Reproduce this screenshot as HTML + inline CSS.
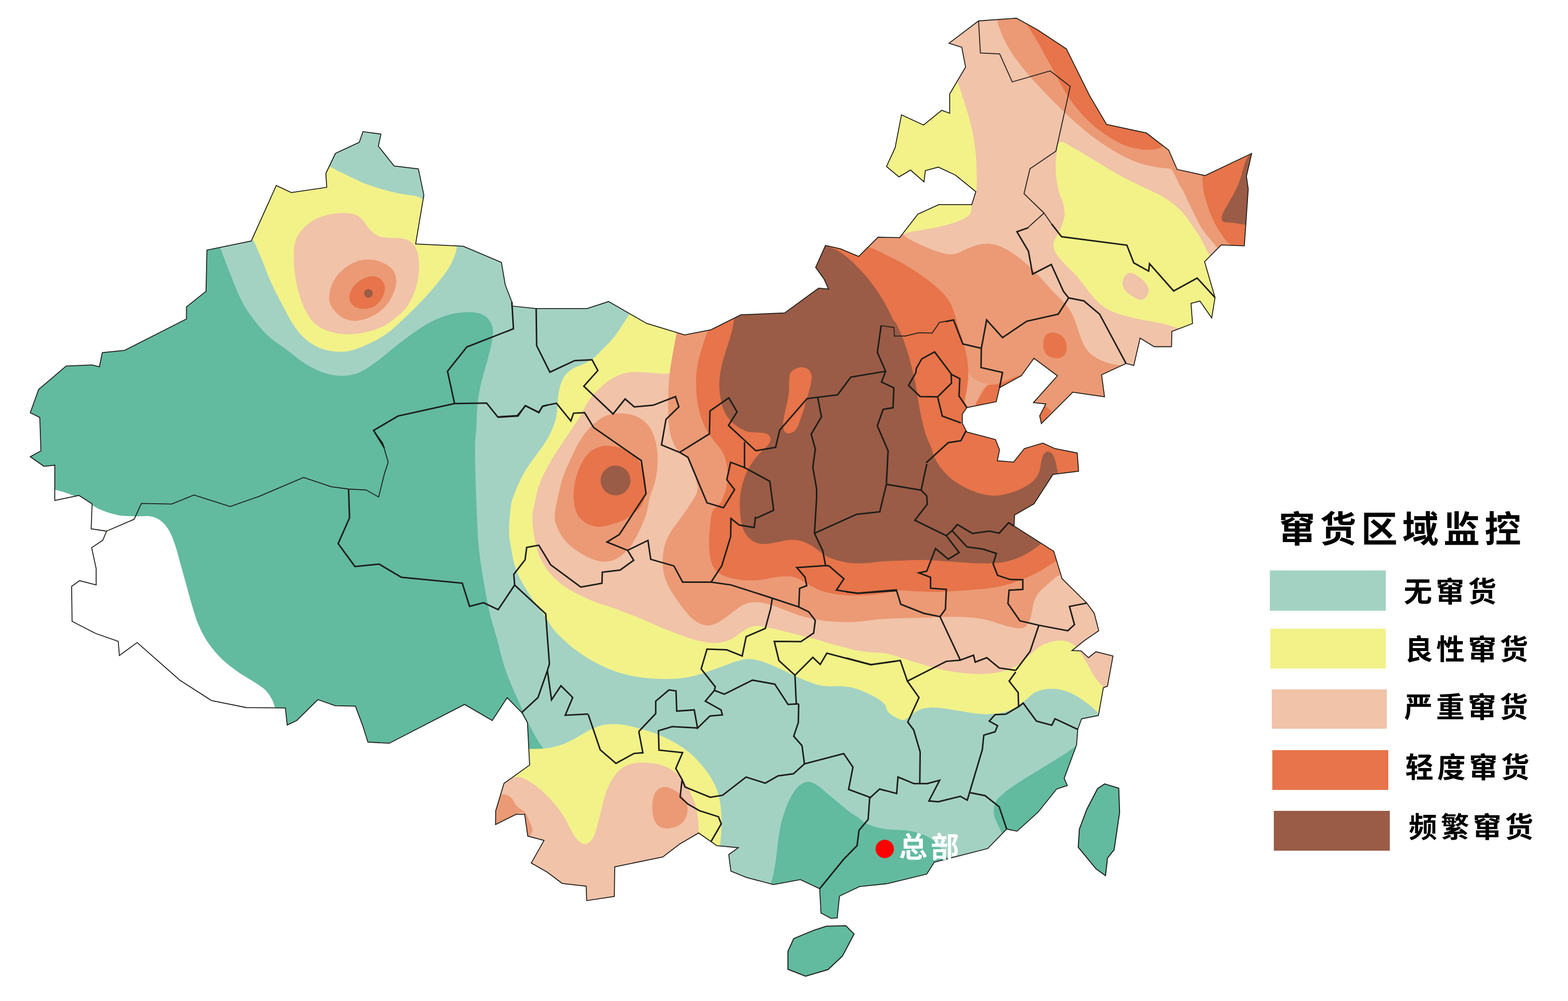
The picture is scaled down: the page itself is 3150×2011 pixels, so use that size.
<!DOCTYPE html>
<html><head><meta charset="utf-8"><title>map</title>
<style>html,body{margin:0;padding:0;background:#fff;font-family:"Liberation Sans",sans-serif}svg{display:block}</style></head>
<body>
<svg width="3150" height="2011" viewBox="0 0 3150 2011">
<defs><clipPath id="cn"><path d="M79.9,838.6 L60.8,829.0 L77.7,782.4 L132.9,735.4 L185.0,733.1 L199.6,736.8 L205.6,708.4 L250.3,703.9 L374.6,640.8 L374.6,616.6 L413.9,585.1 L415.7,502.4 L504.8,484.1 L555.0,372.7 L585.2,386.8 L656.4,376.3 L654.6,348.5 L673.8,308.3 L721.8,285.9 L729.1,264.4 L765.2,269.4 L760.1,293.6 L791.7,333.4 L840.5,339.3 L851.5,391.9 L835.0,490.1 L930.5,494.6 L1007.3,527.1 L1015.0,572.3 L1028.3,606.6 L1028.3,614.8 L1077.1,619.8 L1179.4,619.8 L1222.6,605.8 L1299.0,649.7 L1375.4,672.9 L1428.6,662.3 L1488.4,632.4 L1576.4,628.7 L1644.5,578.9 L1664.5,580.6 L1655.3,560.4 L1638.6,537.1 L1658.3,493.1 L1688.4,499.9 L1725.0,515.2 L1764.0,476.5 L1807.4,477.4 L1843.9,430.3 L1885.9,411.1 L1952.2,411.1 L1960.4,385.1 L1919.3,351.7 L1885.0,335.8 L1859.0,342.6 L1856.2,365.4 L1829.3,341.7 L1806.0,355.4 L1780.9,334.4 L1798.2,296.9 L1811.0,230.7 L1855.3,251.2 L1891.9,221.6 L1907.8,227.5 L1907.8,188.7 L1939.8,134.8 L1932.1,95.0 L1906.5,86.8 L1965.9,42.0 L2041.7,36.5 L2083.7,59.4 L2142.2,98.2 L2188.8,191.9 L2223.0,249.9 L2303.0,267.2 L2347.8,301.5 L2364.7,340.3 L2420.8,352.7 L2514.5,308.3 L2504.0,354.0 L2507.6,380.1 L2499.7,493.9 L2453.2,492.2 L2419.9,525.7 L2440.9,597.8 L2434.2,638.7 L2410.6,604.8 L2392.7,609.5 L2395.7,650.0 L2354.2,665.9 L2353.5,696.5 L2318.6,696.5 L2290.4,679.2 L2277.7,734.1 L2262.1,730.1 L2213.0,753.0 L2218.9,797.2 L2155.1,787.9 L2092.0,851.0 L2088.7,835.4 L2101.0,811.5 L2076.1,808.8 L2124.3,755.0 L2077.1,719.8 L2051.8,754.7 L2008.0,778.9 L2001.3,807.1 L1942.5,818.8 L1933.2,832.1 L1933.2,850.3 L1942.2,867.9 L1999.7,882.9 L2008.0,903.5 L2003.7,925.7 L2036.2,928.4 L2057.8,901.2 L2095.0,890.2 L2119.3,901.2 L2164.1,910.1 L2166.8,946.7 L2115.3,953.2 L2077.1,1012.3 L2038.2,1034.6 L2037.2,1056.8 L2116.9,1107.6 L2133.6,1162.5 L2183.4,1211.6 L2198.3,1232.2 L2207.3,1267.1 L2178.4,1287.0 L2153.5,1307.0 L2171.8,1307.6 L2186.7,1321.3 L2201.7,1309.3 L2235.9,1317.9 L2224.9,1378.4 L2216.6,1381.7 L2206.6,1437.4 L2172.8,1444.0 L2165.1,1465.3 L2162.8,1496.2 L2137.9,1563.6 L2144.2,1578.2 L2122.6,1585.2 L2085.4,1631.7 L2043.2,1669.9 L2022.3,1665.6 L1984.1,1704.8 L1877.1,1732.1 L1861.8,1756.0 L1783.1,1775.2 L1726.6,1781.2 L1686.5,1800.3 L1681.9,1844.2 L1669.3,1844.9 L1649.3,1834.2 L1646.7,1785.4 L1607.8,1767.1 L1554.0,1777.1 L1499.8,1762.8 L1468.3,1750.2 L1464.0,1716.9 L1483.2,1703.0 L1440.0,1699.0 L1428.4,1690.7 L1403.5,1673.4 L1365.3,1695.7 L1331.4,1721.6 L1235.0,1741.5 L1234.1,1801.0 L1178.6,1809.3 L1177.6,1780.4 L1129.4,1774.8 L1099.5,1752.2 L1067.3,1733.9 L1092.9,1688.4 L1060.3,1679.7 L1054.0,1635.9 L1037.0,1635.9 L995.5,1656.5 L995.8,1629.2 L1012.5,1573.8 L1064.0,1536.9 L1059.6,1451.5 L1048.7,1432.2 L1018.8,1401.7 L988.9,1447.5 L933.3,1415.1 L782.1,1493.2 L739.1,1490.9 L728.6,1457.6 L714.0,1418.7 L673.8,1417.8 L638.6,1405.5 L596.1,1447.5 L577.0,1456.6 L573.3,1422.4 L494.7,1421.5 L424.8,1407.3 L360.9,1366.2 L275.5,1290.8 L239.8,1316.9 L237.5,1288.5 L191.9,1272.5 L144.8,1248.3 L143.9,1178.0 L159.9,1166.6 L193.2,1175.2 L193.2,1142.4 L184.1,1100.3 L206.5,1085.3 L214.2,1067.0 L183.2,1062.4 L185.0,1012.2 L158.5,995.3 L110.1,1005.3 L110.1,934.5 L88.2,936.8 L60.8,917.6 L82.2,905.7Z"/></clipPath></defs>
<rect width="3150" height="2011" fill="#fff"/>
<g clip-path="url(#cn)">
<rect width="3150" height="2011" fill="#62BA9F"/>
<path d="M110.1,983.8 C114.6,985.1 127.2,988.0 137.0,991.6 C146.8,995.2 158.3,1000.0 169.0,1005.3 C179.7,1010.6 189.6,1018.6 201.0,1023.6 C212.4,1028.5 225.3,1032.7 237.5,1035.0 C249.7,1037.3 263.4,1036.9 274.1,1037.3 C284.8,1037.7 293.5,1035.9 301.5,1037.3 C309.5,1038.7 315.9,1040.9 322.1,1045.5 C328.4,1050.1 334.1,1056.5 339.0,1064.7 C343.9,1072.9 347.8,1083.0 351.7,1094.4 C355.6,1105.8 359.0,1119.9 362.7,1133.2 C366.4,1146.5 370.3,1160.6 374.1,1174.3 C377.9,1188.0 381.3,1201.7 385.5,1215.4 C389.7,1229.1 393.7,1243.6 399.3,1256.6 C404.9,1269.5 411.5,1281.7 419.4,1293.1 C427.3,1304.5 436.9,1315.6 446.8,1325.1 C456.7,1334.6 467.9,1342.6 478.7,1350.2 C489.5,1357.8 502.5,1364.7 511.6,1370.8 C520.8,1376.9 527.8,1381.1 533.6,1386.8 C539.4,1392.5 543.1,1399.1 546.3,1405.0 C549.5,1410.9 551.6,1419.5 552.7,1422.4 L553.7,1535.2 L0.0,1535.2 L0.0,983.8Z" fill="#fff"/>
<path d="M442.2,496.9 C445.4,505.3 454.4,529.7 461.4,547.2 C468.4,564.7 476.6,586.8 484.2,602.0 C491.8,617.2 498.0,626.3 507.1,638.5 C516.2,650.7 527.6,664.4 539.0,675.1 C550.4,685.8 563.4,693.4 575.6,702.5 C587.8,711.6 599.9,722.3 612.1,729.9 C624.3,737.5 636.5,744.0 648.7,748.2 C660.9,752.4 673.0,755.0 685.2,755.0 C697.4,755.0 709.6,753.2 721.8,748.2 C734.0,743.2 746.1,734.1 758.3,725.3 C770.5,716.5 782.7,705.1 794.9,695.6 C807.1,686.1 819.2,676.6 831.4,668.2 C843.6,659.8 855.7,651.5 867.9,645.4 C880.1,639.3 892.3,634.8 904.5,631.7 C916.7,628.7 930.4,627.1 941.0,627.1 C951.6,627.1 961.2,628.7 968.4,631.7 C975.6,634.8 980.7,639.7 984.4,645.4 C988.1,651.1 990.0,657.9 990.4,665.9 C990.8,673.9 988.8,682.7 986.7,693.4 C984.6,704.1 981.0,717.0 977.6,729.9 C974.2,742.8 969.2,757.3 966.2,771.0 C963.2,784.7 960.8,797.6 959.3,812.1 C957.8,826.6 957.8,844.0 957.0,857.8 C956.2,871.6 954.8,877.1 954.5,895 C954.2,912.9 954.9,942.0 955.5,965 C956.1,988.0 956.9,1010.3 958,1033 C959.1,1055.7 959.7,1078.2 962,1101 C964.3,1123.8 968.3,1148.2 972,1170 C975.7,1191.8 979.3,1212.2 984,1232 C988.7,1251.8 996.2,1275.1 1000.0,1289.0 C1003.8,1302.9 1003.8,1305.6 1006.6,1315.6 C1009.4,1325.6 1012.7,1337.7 1016.6,1348.8 C1020.5,1359.9 1025.5,1371.6 1029.9,1382.1 C1034.3,1392.6 1038.8,1402.0 1043.2,1412.0 C1047.6,1422.0 1052.1,1432.5 1056.5,1441.9 C1060.9,1451.3 1065.4,1460.1 1069.8,1468.4 C1074.2,1476.7 1079.2,1485.6 1083.1,1491.7 C1087.0,1497.8 1091.3,1503.0 1093.0,1505.0 C1094.7,1507.0 1093.4,1503.9 1093.5,1503.7 L1063.0,1509.6 L1000,2011 L3150,2011 L3150,0 L442,0Z" fill="#A3D2C3"/>
<path d="M1548.0,1777.1 C1548.8,1774.0 1551.3,1766.3 1553.0,1758.8 C1554.7,1751.3 1556.6,1741.1 1558.0,1732.2 C1559.4,1723.3 1560.2,1714.4 1561.3,1705.6 C1562.4,1696.8 1563.2,1687.9 1564.6,1679.1 C1566.0,1670.2 1567.4,1661.4 1569.6,1652.5 C1571.8,1643.6 1574.9,1634.2 1577.9,1625.9 C1581.0,1617.6 1584.0,1609.9 1587.9,1602.7 C1591.8,1595.5 1596.8,1587.7 1601.2,1582.7 C1605.6,1577.7 1610.1,1574.7 1614.5,1572.8 C1618.9,1570.9 1622.7,1570.0 1627.7,1571.1 C1632.7,1572.2 1638.3,1575.2 1644.4,1579.4 C1650.5,1583.6 1657.7,1590.5 1664.3,1596.0 C1670.9,1601.5 1677.5,1607.1 1684.2,1612.6 C1690.9,1618.1 1697.6,1624.2 1704.2,1629.2 C1710.8,1634.2 1718.7,1638.7 1724.1,1642.5 C1729.5,1646.3 1731.1,1649.3 1736.5,1652.3 C1741.9,1655.3 1749.3,1658.4 1756.5,1660.6 C1763.7,1662.8 1772.0,1664.5 1779.7,1665.6 C1787.5,1666.7 1795.2,1666.8 1803.0,1667.3 C1810.8,1667.8 1819.0,1667.8 1826.2,1668.9 C1833.4,1670.0 1839.6,1671.7 1846.2,1673.9 C1852.8,1676.1 1860.0,1678.6 1866.1,1682.2 C1872.2,1685.8 1877.7,1690.5 1882.7,1695.5 C1887.7,1700.5 1892.1,1706.8 1896.0,1712.1 C1899.9,1717.4 1904.3,1724.6 1906.0,1727.1 L1932,1900 L1500,1900Z" fill="#62BA9F"/>
<path d="M2162.8,1497.8 C2159.3,1500.3 2149.8,1507.5 2141.9,1512.8 C2134.0,1518.1 2124.7,1523.6 2115.3,1529.4 C2105.9,1535.2 2094.8,1541.9 2085.4,1547.7 C2076.0,1553.5 2067.1,1559.0 2058.8,1564.3 C2050.5,1569.5 2042.7,1574.2 2035.5,1579.2 C2028.3,1584.2 2021.1,1589.5 2015.6,1594.2 C2010.1,1598.9 2005.4,1602.8 2002.3,1607.5 C1999.2,1612.2 1997.5,1617.2 1996.7,1622.4 C1995.9,1627.7 1996.1,1633.5 1997.3,1639.0 C1998.5,1644.5 2001.5,1650.0 2004.0,1655.6 C2006.5,1661.1 2010.9,1669.5 2012.3,1672.3 L2065.4,1715.4 L2198.3,1582.6Z" fill="#62BA9F"/>
<path d="M509.3,483.2 C512.0,489.3 519.6,506.1 525.3,519.8 C531.0,533.5 536.8,550.2 543.6,565.4 C550.5,580.6 558.8,596.6 566.4,611.1 C574.0,625.6 581.7,640.8 589.3,652.2 C596.9,663.6 603.7,672.1 612.1,679.7 C620.5,687.3 629.6,693.5 639.5,697.9 C649.4,702.3 660.8,705.0 671.5,706.1 C682.2,707.2 692.1,707.3 703.5,704.8 C714.9,702.3 727.8,696.8 740.0,691.1 C752.2,685.4 764.4,679.3 776.6,670.5 C788.8,661.7 800.9,649.9 813.1,638.5 C825.3,627.1 838.3,614.2 849.7,602.0 C861.1,589.8 872.5,576.8 881.6,565.4 C890.7,554.0 898.8,543.4 904.5,533.5 C910.2,523.6 913.8,512.6 915.9,506.1 C918.0,499.6 917.1,496.5 917.3,494.6 L850.6,401.0 C848.2,399.9 845.3,396.4 836.0,394.1 C826.7,391.8 810.9,391.1 794.9,387.3 C778.9,383.5 756.8,377.4 740.0,371.3 C723.2,365.2 707.3,356.8 694.4,350.7 C681.5,344.6 667.7,337.4 662.4,334.8 L630.4,337.0 L525.3,337.0 L479.7,474.1Z" fill="#F2F289"/>
<path d="M1264.1,631.4 C1262.2,634.5 1256.7,643.3 1252.5,649.7 C1248.3,656.1 1243.6,663.5 1239.2,669.6 C1234.8,675.7 1230.9,680.7 1225.9,686.2 C1220.9,691.7 1214.8,697.3 1209.3,702.8 C1203.8,708.3 1198.8,714.7 1192.7,719.4 C1186.6,724.1 1179.5,727.8 1172.8,731.1 C1166.1,734.4 1158.9,735.8 1152.8,739.4 C1146.7,743.0 1140.6,747.2 1136.2,752.7 C1131.8,758.2 1128.7,765.4 1126.2,772.6 C1123.7,779.8 1122.4,788.0 1121.3,795.8 C1120.2,803.5 1120.4,811.3 1119.6,819.1 C1118.8,826.9 1118.5,834.1 1116.3,842.4 C1114.1,850.7 1110.2,860.6 1106.3,868.9 C1102.4,877.2 1098.0,884.5 1093.0,892.2 C1088.0,900.0 1081.9,907.6 1076.4,915.4 C1070.9,923.1 1064.8,930.9 1059.8,938.7 C1054.8,946.5 1050.7,953.7 1046.5,962.0 C1042.3,970.3 1038.2,979.6 1034.9,988.5 C1031.6,997.4 1028.6,1002.1 1026.6,1015.1 C1024.5,1028.1 1022.6,1052.3 1022.6,1066.4 C1022.6,1080.5 1024.8,1088.6 1026.6,1099.7 C1028.4,1110.8 1030.4,1122.9 1033.2,1132.9 C1036.0,1142.9 1039.3,1151.2 1043.2,1159.5 C1047.1,1167.8 1051.8,1175.0 1056.5,1182.7 C1061.2,1190.5 1066.4,1198.8 1071.4,1206.0 C1076.4,1213.2 1081.7,1219.3 1086.4,1225.9 C1091.1,1232.5 1095.3,1239.2 1099.7,1245.8 C1104.1,1252.4 1107.5,1259.1 1113.0,1265.8 C1118.5,1272.5 1125.7,1279.1 1132.9,1285.7 C1140.1,1292.3 1147.2,1298.9 1156.1,1305.6 C1164.9,1312.2 1175.5,1319.5 1186.0,1325.6 C1196.5,1331.7 1208.2,1337.5 1219.3,1342.2 C1230.4,1346.9 1241.4,1350.8 1252.5,1353.8 C1263.6,1356.8 1274.6,1358.8 1285.7,1360.5 C1296.8,1362.2 1307.8,1363.2 1318.9,1363.8 C1330.0,1364.3 1341.7,1364.3 1352.2,1363.8 C1362.7,1363.2 1372.7,1362.2 1382.1,1360.5 C1391.5,1358.8 1400.3,1356.3 1408.6,1353.8 C1416.9,1351.3 1424.2,1348.3 1431.9,1345.5 C1439.7,1342.7 1447.3,1340.0 1455.1,1337.2 C1462.8,1334.4 1470.6,1331.1 1478.4,1328.9 C1486.2,1326.7 1494.0,1324.2 1501.7,1323.9 C1509.5,1323.6 1517.2,1325.3 1524.9,1327.2 C1532.7,1329.1 1540.5,1332.5 1548.2,1335.5 C1556.0,1338.5 1563.7,1341.9 1571.4,1345.5 C1579.2,1349.1 1587.0,1353.5 1594.7,1357.1 C1602.5,1360.7 1610.2,1364.0 1617.9,1367.1 C1625.7,1370.1 1633.4,1373.5 1641.2,1375.4 C1649.0,1377.3 1656.2,1378.2 1664.5,1378.7 C1672.8,1379.2 1682.7,1378.1 1691.0,1378.7 C1699.3,1379.3 1706.5,1380.1 1714.3,1382.1 C1722.0,1384.0 1729.8,1387.1 1737.5,1390.4 C1745.2,1393.7 1754.1,1397.8 1760.8,1402.0 C1767.5,1406.2 1773.2,1410.3 1777.4,1415.3 C1781.6,1420.3 1780.1,1426.7 1785.7,1431.9 C1791.3,1437.1 1804.8,1444.7 1811.3,1446.3 C1817.8,1447.9 1819.9,1444.2 1824.6,1441.4 C1829.3,1438.6 1834.2,1432.8 1839.5,1429.7 C1844.8,1426.7 1850.0,1424.5 1856.1,1423.1 C1862.2,1421.7 1868.9,1421.3 1876.1,1421.4 C1883.3,1421.5 1891.0,1422.7 1899.3,1423.8 C1907.6,1424.9 1917.0,1426.7 1925.9,1428.1 C1934.8,1429.5 1943.6,1431.3 1952.5,1432.4 C1961.4,1433.5 1970.2,1434.6 1979.1,1434.7 C1987.9,1434.8 1997.8,1434.2 2005.6,1433.1 C2013.3,1432.0 2018.9,1430.6 2025.6,1428.1 C2032.2,1425.6 2039.4,1422.0 2045.5,1418.1 C2051.6,1414.2 2056.6,1409.2 2062.1,1404.8 C2067.6,1400.4 2072.6,1394.8 2078.7,1391.5 C2084.8,1388.2 2091.5,1386.1 2098.7,1384.9 C2105.9,1383.7 2114.2,1383.4 2121.9,1384.2 C2129.7,1385.0 2138.0,1387.3 2145.2,1389.9 C2152.4,1392.5 2159.0,1396.2 2165.1,1399.8 C2171.2,1403.4 2176.7,1407.9 2181.7,1411.5 C2186.7,1415.1 2190.8,1417.8 2195.0,1421.4 C2199.2,1425.0 2204.7,1431.1 2206.6,1433.1 L2300,1433 L2300,1200 L1500,1100 L1375,800 L1375,600Z" fill="#F2F289"/>
<path d="M1063.0,1504.7 C1068.1,1504.5 1084.7,1504.5 1093.5,1503.7 C1102.3,1502.9 1109.0,1501.5 1116.1,1499.7 C1123.2,1497.9 1129.3,1495.8 1136.0,1493.0 C1142.7,1490.2 1149.3,1486.7 1156.0,1483.1 C1162.7,1479.5 1169.3,1475.0 1175.9,1471.4 C1182.5,1467.8 1189.2,1464.1 1195.8,1461.5 C1202.4,1458.9 1208.6,1456.9 1215.8,1455.8 C1223.0,1454.7 1231.2,1454.4 1239.0,1454.8 C1246.8,1455.2 1254.0,1456.4 1262.3,1458.1 C1270.6,1459.8 1280.1,1462.3 1288.9,1464.8 C1297.8,1467.3 1306.6,1469.8 1315.4,1473.1 C1324.2,1476.4 1333.1,1480.3 1342.0,1484.7 C1350.9,1489.1 1360.3,1494.2 1368.6,1499.7 C1376.9,1505.2 1384.7,1511.3 1391.9,1517.9 C1399.1,1524.5 1405.7,1532.0 1411.8,1539.5 C1417.9,1547.0 1423.7,1555.0 1428.4,1562.8 C1433.1,1570.5 1437.0,1577.7 1440.0,1586.0 C1443.0,1594.3 1445.2,1603.7 1446.7,1612.6 C1448.2,1621.5 1448.9,1630.3 1449.3,1639.2 C1449.7,1648.1 1449.7,1655.8 1449.3,1665.8 C1448.9,1675.8 1447.1,1693.5 1446.7,1699.0 L1446.7,1765.4 L983.2,1765.4 L983.2,1504.7Z" fill="#F2F289"/>
<path d="M593.9,483.2 C597.5,472.5 604.5,463.4 612.1,455.8 C619.7,448.2 628.8,442.1 639.5,437.5 C650.2,432.9 664.7,429.7 676.1,428.4 C687.5,427.1 699.7,427.9 708.1,429.8 C716.5,431.7 720.6,434.7 726.3,439.8 C732.0,444.9 737.0,454.8 742.3,460.4 C747.6,466.0 752.6,470.3 758.3,473.2 C764.0,476.1 769.0,476.8 776.6,477.7 C784.2,478.6 795.6,477.2 804.0,478.7 C812.4,480.2 820.9,481.6 826.8,486.9 C832.7,492.2 837.2,500.6 839.6,510.6 C842.0,520.7 842.4,535.0 841.4,547.2 C840.4,559.4 837.7,572.3 833.7,583.7 C829.8,595.1 824.2,606.6 817.7,615.7 C811.2,624.8 803.3,631.6 794.9,638.5 C786.5,645.4 778.1,651.8 767.4,656.8 C756.7,661.8 743.1,665.8 730.9,668.2 C718.7,670.6 705.8,671.8 694.4,671.4 C683.0,671.0 672.3,669.1 662.4,665.9 C652.5,662.7 642.6,658.3 635.0,652.2 C627.4,646.1 622.0,638.5 616.7,629.4 C611.4,620.3 606.8,608.8 603.0,597.4 C599.2,586.0 596.0,573.8 593.9,560.9 C591.8,548.0 590.2,532.8 590.2,519.8 C590.2,506.8 590.2,493.9 593.9,483.2Z" fill="#F1C3A9"/>
<path d="M1358.8,671.3 C1358.2,674.9 1356.6,685.4 1355.5,692.9 C1354.4,700.4 1353.3,708.9 1352.2,716.1 C1351.1,723.3 1349.9,730.5 1348.8,736.0 C1347.7,741.5 1348.3,746.8 1345.5,749.3 C1342.7,751.8 1337.7,751.0 1332.2,751.0 C1326.7,751.0 1319.5,749.8 1312.3,749.3 C1305.1,748.8 1296.8,748.0 1289.0,747.7 C1281.2,747.4 1273.0,746.9 1265.8,747.7 C1258.6,748.5 1252.4,750.2 1245.8,752.7 C1239.2,755.2 1232.5,758.2 1225.9,762.6 C1219.3,767.0 1212.1,773.7 1206.0,779.2 C1199.9,784.7 1194.4,789.7 1189.4,795.8 C1184.4,801.9 1180.0,809.1 1176.1,815.8 C1172.2,822.4 1170.0,829.1 1166.1,835.7 C1162.2,842.3 1157.2,849.0 1152.8,855.6 C1148.4,862.2 1143.9,869.0 1139.5,875.6 C1135.1,882.2 1130.6,888.9 1126.2,895.5 C1121.8,902.1 1117.4,908.2 1113.0,915.4 C1108.6,922.6 1103.9,930.9 1099.7,938.7 C1095.5,946.5 1091.3,954.2 1088.0,962.0 C1084.7,969.8 1081.9,977.5 1079.7,985.2 C1077.5,993.0 1076.5,1000.5 1074.8,1008.5 C1073.1,1016.5 1070.4,1023.6 1069.8,1033.2 C1069.2,1042.9 1070.0,1055.3 1071.4,1066.4 C1072.8,1077.5 1075.3,1089.7 1078.1,1099.7 C1080.9,1109.7 1083.8,1117.9 1088.0,1126.2 C1092.2,1134.5 1097.2,1142.3 1103.0,1149.5 C1108.8,1156.7 1115.7,1163.3 1122.9,1169.4 C1130.1,1175.5 1137.9,1181.0 1146.2,1186.0 C1154.5,1191.0 1164.0,1195.1 1172.8,1199.3 C1181.6,1203.5 1190.4,1207.7 1199.3,1211.0 C1208.2,1214.3 1217.0,1216.3 1225.9,1219.3 C1234.8,1222.3 1243.6,1225.9 1252.5,1229.2 C1261.4,1232.5 1270.2,1235.6 1279.1,1239.2 C1287.9,1242.8 1296.8,1246.9 1305.6,1250.8 C1314.4,1254.7 1323.3,1258.9 1332.2,1262.5 C1341.1,1266.1 1349.9,1269.1 1358.8,1272.4 C1367.7,1275.7 1376.5,1279.6 1385.4,1282.4 C1394.3,1285.2 1403.7,1287.5 1412.0,1289.0 C1420.3,1290.5 1428.0,1291.7 1435.2,1291.7 C1442.4,1291.7 1449.0,1290.5 1455.1,1289.0 C1461.2,1287.5 1466.2,1285.4 1471.8,1282.4 C1477.3,1279.4 1482.9,1274.4 1488.4,1270.8 C1493.9,1267.2 1499.5,1263.0 1505.0,1260.8 C1510.5,1258.6 1515.5,1257.5 1521.6,1257.5 C1527.7,1257.5 1534.3,1259.4 1541.5,1260.8 C1548.7,1262.2 1556.5,1263.9 1564.8,1265.8 C1573.1,1267.7 1582.6,1270.2 1591.4,1272.4 C1600.2,1274.6 1609.1,1276.9 1617.9,1279.1 C1626.8,1281.3 1635.6,1283.2 1644.5,1285.7 C1653.4,1288.2 1662.2,1291.5 1671.1,1294.0 C1680.0,1296.5 1688.8,1298.5 1697.7,1300.7 C1706.6,1302.9 1715.5,1305.7 1724.3,1307.3 C1733.1,1308.9 1741.9,1309.8 1750.8,1310.6 C1759.7,1311.4 1769.2,1311.1 1777.4,1312.3 C1785.6,1313.5 1790.5,1315.2 1799.7,1317.9 C1809.0,1320.6 1821.8,1325.2 1832.9,1328.6 C1844.0,1332.0 1855.0,1335.5 1866.1,1338.5 C1877.2,1341.5 1888.2,1344.6 1899.3,1346.8 C1910.4,1349.0 1921.5,1350.6 1932.6,1351.8 C1943.7,1353.0 1954.7,1354.2 1965.8,1354.2 C1976.9,1354.2 1989.0,1353.3 1999.0,1351.8 C2009.0,1350.3 2017.8,1348.0 2025.6,1345.2 C2033.3,1342.4 2039.4,1339.1 2045.5,1335.2 C2051.6,1331.3 2056.6,1326.6 2062.1,1321.9 C2067.6,1317.2 2073.2,1311.4 2078.7,1307.0 C2084.2,1302.6 2089.2,1298.3 2095.3,1295.3 C2101.4,1292.2 2108.7,1290.1 2115.3,1288.7 C2122.0,1287.3 2129.1,1286.5 2135.2,1287.0 C2141.3,1287.5 2146.8,1289.2 2151.8,1292.0 C2156.8,1294.8 2161.2,1299.3 2165.1,1303.7 C2169.0,1308.1 2171.8,1313.3 2175.1,1318.6 C2178.4,1323.8 2181.1,1328.5 2185.0,1335.2 C2188.9,1341.9 2193.9,1351.8 2198.3,1358.5 C2202.7,1365.2 2208.0,1370.9 2211.6,1375.1 C2215.2,1379.2 2218.5,1382.0 2219.9,1383.4 L2400,1383 L3000,1000 L3000,0 L1358,0Z" fill="#F1C3A9"/>
<path d="M1029.7,1561.8 C1031.9,1561.7 1038.6,1560.4 1043.0,1561.1 C1047.4,1561.8 1051.3,1563.6 1056.3,1566.1 C1061.3,1568.6 1067.4,1572.2 1072.9,1576.1 C1078.4,1580.0 1084.0,1584.4 1089.5,1589.4 C1095.0,1594.4 1100.5,1599.9 1106.1,1606.0 C1111.6,1612.1 1117.8,1619.3 1122.8,1625.9 C1127.8,1632.5 1132.1,1639.2 1136.0,1645.8 C1139.9,1652.4 1142.7,1659.7 1146.0,1665.8 C1149.3,1671.9 1152.7,1678.0 1156.0,1682.4 C1159.3,1686.8 1162.6,1690.2 1165.9,1692.4 C1169.2,1694.6 1172.6,1696.0 1175.9,1695.7 C1179.2,1695.4 1182.9,1693.8 1185.9,1690.7 C1189.0,1687.7 1191.7,1683.2 1194.2,1677.4 C1196.7,1671.6 1198.6,1663.8 1200.8,1655.8 C1203.0,1647.8 1205.3,1638.0 1207.5,1629.2 C1209.7,1620.4 1211.3,1611.6 1214.1,1602.7 C1216.9,1593.8 1219.9,1584.4 1224.1,1576.1 C1228.2,1567.8 1233.2,1559.2 1239.0,1552.8 C1244.8,1546.4 1251.8,1541.3 1259.0,1537.9 C1266.2,1534.5 1274.5,1533.0 1282.2,1532.2 C1290.0,1531.4 1297.8,1532.1 1305.5,1532.9 C1313.2,1533.7 1321.5,1534.7 1328.7,1536.9 C1335.9,1539.1 1342.6,1542.4 1348.7,1546.2 C1354.8,1550.0 1360.3,1554.5 1365.3,1559.5 C1370.3,1564.5 1374.7,1570.0 1378.6,1576.1 C1382.5,1582.2 1385.5,1589.4 1388.5,1596.0 C1391.5,1602.6 1394.6,1608.7 1396.8,1615.9 C1399.0,1623.1 1400.7,1631.4 1401.8,1639.2 C1402.9,1647.0 1403.2,1656.8 1403.5,1662.5 C1403.8,1668.2 1403.5,1671.6 1403.5,1673.4 L1403.5,1831.9 L983.2,1831.9 L983.2,1561.8Z" fill="#F1C3A9"/>
<path d="M1923.8,164.5 C1925.3,169.1 1929.6,181.2 1933.0,191.9 C1936.4,202.6 1941.0,216.2 1944.4,228.4 C1947.8,240.6 1951.0,252.8 1953.5,265.0 C1956.0,277.2 1958.1,289.3 1959.5,301.5 C1960.9,313.7 1961.5,324.3 1961.8,338.0 C1962.1,351.7 1962.9,371.5 1961.3,383.7 C1959.7,395.9 1954.2,403.5 1952.2,411.1 C1950.2,418.7 1953.0,424.1 1949.0,429.4 C1945.0,434.7 1937.9,438.9 1928.4,443.1 C1918.9,447.3 1904.9,451.3 1891.9,454.5 C1879.0,457.7 1862.7,460.0 1850.7,462.3 C1838.7,464.6 1826.9,465.5 1819.7,468.2 C1812.5,470.9 1809.5,476.6 1807.4,478.3 L1745.7,478.3 L1745.7,137.0Z" fill="#F2F289"/>
<path d="M2129.4,285.5 C2135.1,283.2 2144.6,290.4 2156.8,296.9 C2169.0,303.4 2187.3,315.2 2202.5,324.3 C2217.7,333.4 2233.0,343.3 2248.2,351.7 C2263.4,360.1 2278.7,367.0 2293.9,374.6 C2309.1,382.2 2326.6,389.4 2339.5,397.4 C2352.4,405.4 2362.3,413.4 2371.5,422.5 C2380.7,431.6 2387.6,442.7 2394.4,452.2 C2401.2,461.7 2407.3,470.5 2412.6,479.7 C2417.9,488.9 2422.5,500.2 2426.3,507.1 C2430.1,514.0 2427.1,506.3 2435.5,520.8 C2443.9,535.3 2473.6,570.3 2476.6,593.9 C2479.6,617.5 2470.4,651.4 2453.7,662.4 C2436.9,673.4 2395.1,662.0 2376.1,660.1 C2357.1,658.2 2351.7,653.7 2339.5,651.0 C2327.3,648.3 2315.9,646.8 2303.0,644.1 C2290.1,641.4 2274.8,638.8 2261.9,635.0 C2249.0,631.2 2236.0,627.4 2225.3,621.3 C2214.6,615.2 2205.5,606.0 2197.9,598.4 C2190.3,590.8 2185.8,583.2 2179.7,575.6 C2173.6,568.0 2168.3,560.3 2161.4,552.7 C2154.5,545.1 2145.3,537.5 2138.5,529.9 C2131.7,522.3 2124.0,514.0 2120.3,507.1 C2116.7,500.2 2116.2,494.1 2116.6,488.8 C2117.0,483.5 2120.0,480.4 2122.5,475.1 C2125.0,469.8 2129.0,463.7 2131.7,456.8 C2134.4,449.9 2137.7,441.6 2138.5,434.0 C2139.3,426.4 2138.2,419.5 2136.3,411.1 C2134.4,402.7 2129.6,394.4 2127.1,383.7 C2124.6,373.0 2122.0,359.4 2121.2,347.2 C2120.4,335.0 2121.1,320.9 2122.5,310.6 C2123.9,300.3 2123.7,287.8 2129.4,285.5Z" fill="#F2F289"/>
<path d="M2255.0,566.4 C2255.4,561.5 2258.8,555.7 2261.9,552.7 C2265.0,549.7 2268.7,547.4 2273.3,548.2 C2277.9,549.0 2284.4,553.5 2289.3,557.3 C2294.2,561.1 2299.9,566.4 2303.0,571.0 C2306.1,575.6 2308.0,580.1 2307.6,584.7 C2307.2,589.3 2303.8,595.5 2300.7,598.4 C2297.6,601.3 2293.9,602.9 2289.3,602.1 C2284.7,601.4 2278.2,597.2 2273.3,593.9 C2268.4,590.6 2262.7,587.0 2259.6,582.4 C2256.5,577.8 2254.6,571.3 2255.0,566.4Z" fill="#F1C3A9"/>
<path d="M661.3,598.2 C661.5,591.7 662.7,582.0 665.9,573.9 C669.1,565.8 674.6,556.6 680.7,549.6 C686.8,542.6 694.6,536.6 702.3,532.1 C709.9,527.6 718.5,524.3 726.6,522.6 C734.7,520.9 743.2,521.0 750.9,522.1 C758.5,523.2 766.2,526.2 772.5,529.4 C778.8,532.6 784.9,536.8 788.7,541.5 C792.5,546.2 794.5,551.9 795.5,557.7 C796.5,563.6 796.2,569.9 794.6,576.6 C793.0,583.4 789.7,591.5 786.0,598.2 C782.3,605.0 777.9,611.5 772.5,617.1 C767.1,622.7 760.4,628.0 753.6,632.0 C746.9,636.0 739.2,639.3 732.0,641.4 C724.8,643.5 717.1,644.8 710.4,644.6 C703.6,644.4 697.4,642.9 691.5,640.1 C685.6,637.3 679.8,632.4 675.3,627.9 C670.8,623.4 666.8,618.0 664.5,613.1 C662.2,608.2 661.1,604.7 661.3,598.2Z" fill="#EB9A75"/>
<path d="M1196.0,849.0 C1202.1,844.0 1208.7,838.8 1215.9,835.7 C1223.1,832.7 1230.9,831.2 1239.2,830.7 C1247.5,830.2 1257.5,830.5 1265.8,832.4 C1274.1,834.3 1282.4,838.0 1289.0,842.4 C1295.6,846.8 1301.2,852.4 1305.6,859.0 C1310.0,865.6 1313.1,873.9 1315.6,882.2 C1318.1,890.5 1319.8,899.4 1320.6,908.8 C1321.4,918.2 1321.4,928.7 1320.6,938.7 C1319.8,948.7 1318.1,958.6 1315.6,968.6 C1313.1,978.6 1308.4,988.3 1305.6,998.5 C1302.8,1008.7 1301.8,1020.2 1299.0,1029.9 C1296.2,1039.6 1292.9,1047.6 1289.0,1056.5 C1285.1,1065.4 1280.1,1075.3 1275.7,1083.1 C1271.3,1090.8 1267.5,1097.2 1262.5,1103.0 C1257.5,1108.8 1251.3,1114.0 1245.8,1117.9 C1240.2,1121.8 1235.3,1124.5 1229.2,1126.2 C1223.1,1127.9 1215.9,1128.5 1209.3,1127.9 C1202.7,1127.4 1196.1,1125.4 1189.4,1122.9 C1182.8,1120.4 1176.1,1116.9 1169.4,1113.0 C1162.8,1109.1 1155.6,1104.7 1149.5,1099.7 C1143.4,1094.7 1137.9,1089.8 1132.9,1083.1 C1127.9,1076.4 1122.6,1068.1 1119.6,1059.8 C1116.5,1051.5 1113.5,1047.3 1114.6,1033.2 C1115.7,1019.1 1122.6,989.9 1126.2,975.2 C1129.8,960.6 1132.3,955.3 1136.2,945.3 C1140.1,935.3 1145.1,924.8 1149.5,915.4 C1153.9,906.0 1157.8,897.2 1162.8,888.9 C1167.8,880.6 1173.9,872.2 1179.4,865.6 C1184.9,859.0 1189.9,854.0 1196.0,849.0Z" fill="#EB9A75"/>
<path d="M1358.8,671.3 C1356.6,684.3 1348.3,725.2 1345.5,749.3 C1342.7,773.4 1342.2,796.4 1342.2,815.8 C1342.2,835.2 1343.3,852.3 1345.5,865.6 C1347.7,878.9 1351.6,887.8 1355.5,895.5 C1359.4,903.2 1364.4,907.7 1368.8,912.1 C1373.2,916.5 1378.2,917.1 1382.1,922.1 C1386.0,927.1 1389.2,934.8 1392.0,942.0 C1394.8,949.2 1397.3,957.5 1398.7,965.3 C1400.1,973.0 1403.1,979.4 1400.3,988.5 C1397.5,997.6 1387.9,1010.8 1382.1,1019.9 C1376.3,1029.0 1371.0,1035.5 1365.4,1043.2 C1359.9,1051.0 1353.5,1058.7 1348.8,1066.4 C1344.1,1074.2 1340.0,1081.9 1337.2,1089.7 C1334.4,1097.5 1333.1,1105.2 1332.2,1113.0 C1331.3,1120.8 1331.0,1128.5 1331.6,1136.2 C1332.1,1144.0 1333.2,1151.8 1335.5,1159.5 C1337.8,1167.2 1341.3,1175.0 1345.5,1182.7 C1349.7,1190.5 1355.5,1198.8 1360.5,1206.0 C1365.5,1213.2 1370.4,1219.8 1375.4,1225.9 C1380.4,1232.0 1385.4,1238.1 1390.4,1242.5 C1395.4,1246.9 1400.0,1250.2 1405.3,1252.5 C1410.5,1254.8 1416.4,1256.5 1421.9,1256.5 C1427.4,1256.5 1433.0,1254.8 1438.5,1252.5 C1444.0,1250.2 1450.1,1245.8 1455.1,1242.5 C1460.1,1239.2 1464.0,1235.9 1468.4,1232.6 C1472.8,1229.3 1477.3,1225.6 1481.7,1222.6 C1486.1,1219.5 1490.0,1216.4 1495.0,1214.3 C1500.0,1212.2 1505.5,1210.5 1511.6,1210.0 C1517.7,1209.5 1524.9,1210.0 1531.6,1211.0 C1538.2,1212.0 1543.8,1213.4 1551.5,1215.9 C1559.2,1218.4 1569.2,1222.6 1578.1,1225.9 C1587.0,1229.2 1595.8,1233.1 1604.7,1235.9 C1613.6,1238.7 1622.4,1240.6 1631.2,1242.5 C1640.0,1244.4 1648.9,1246.4 1657.8,1247.5 C1666.7,1248.6 1675.5,1248.8 1684.4,1249.2 C1693.3,1249.6 1702.2,1250.1 1711.0,1249.8 C1719.8,1249.5 1728.7,1248.4 1737.5,1247.5 C1746.3,1246.6 1753.7,1245.1 1764.1,1244.2 C1774.5,1243.3 1788.2,1242.7 1799.7,1242.2 C1811.2,1241.8 1821.8,1241.8 1832.9,1241.5 C1844.0,1241.2 1855.0,1240.8 1866.1,1240.5 C1877.2,1240.2 1888.2,1239.7 1899.3,1239.5 C1910.4,1239.3 1921.5,1239.0 1932.6,1239.5 C1943.7,1240.0 1956.4,1240.9 1965.8,1242.2 C1975.2,1243.5 1981.8,1245.3 1989.0,1247.2 C1996.2,1249.1 2002.3,1251.8 2009.0,1253.8 C2015.7,1255.8 2022.3,1258.1 2028.9,1259.5 C2035.5,1260.9 2043.5,1262.2 2048.8,1262.1 C2054.1,1262.0 2057.2,1261.6 2060.5,1258.8 C2063.8,1256.0 2066.6,1251.0 2068.8,1245.5 C2071.0,1240.0 2072.4,1231.7 2073.8,1225.6 C2075.2,1219.5 2075.2,1214.5 2077.1,1209.0 C2079.0,1203.5 2081.8,1197.4 2085.4,1192.4 C2089.0,1187.4 2094.3,1183.3 2098.7,1179.1 C2103.1,1174.9 2108.1,1170.7 2112.0,1167.4 C2115.9,1164.1 2118.6,1161.3 2121.9,1159.1 C2125.2,1156.9 2130.2,1155.0 2131.9,1154.2 L2300,1154 L2300,760 L2252.2,734.1 C2248.9,733.5 2239.4,732.7 2232.2,730.7 C2225.0,728.8 2216.2,726.0 2209.0,722.4 C2201.8,718.8 2194.6,714.6 2189.0,709.1 C2183.4,703.6 2179.6,697.0 2175.7,689.2 C2171.8,681.5 2168.6,670.4 2165.8,662.6 C2163.0,654.9 2161.9,649.3 2159.1,642.7 C2156.3,636.1 2153.1,628.9 2149.2,622.8 C2145.3,616.7 2140.9,611.6 2135.9,606.1 C2130.9,600.6 2125.4,595.9 2119.3,589.5 C2113.2,583.1 2106.0,575.1 2099.3,567.9 C2092.7,560.7 2086.0,552.9 2079.4,546.3 C2072.8,539.7 2066.7,534.2 2059.5,528.1 C2052.3,522.0 2044.0,515.1 2036.2,509.8 C2028.5,504.5 2020.8,499.8 2013.0,496.5 C2005.2,493.2 1997.5,490.7 1989.7,489.9 C1981.9,489.1 1974.2,489.9 1966.4,491.5 C1958.7,493.1 1951.0,496.8 1943.2,499.8 C1935.5,502.9 1926.8,508.1 1919.9,509.8 C1913.0,511.5 1908.0,510.9 1902.0,510.2 C1896.0,509.5 1889.8,507.5 1883.7,505.6 C1877.6,503.7 1871.5,501.3 1865.4,498.8 C1859.3,496.3 1852.9,493.5 1847.2,490.8 C1841.5,488.1 1835.8,485.3 1831.2,482.8 C1826.6,480.3 1822.7,478.0 1819.8,475.9 C1816.9,473.8 1815.0,471.1 1814.1,470.2 L1700,450 L1400,600Z" fill="#EB9A75"/>
<path d="M2003.0,40.1 C2003.7,42.5 2004.9,48.1 2007.1,54.3 C2009.3,60.5 2012.4,69.1 2016.2,77.1 C2020.0,85.1 2025.0,94.2 2029.9,102.2 C2034.9,110.2 2040.2,117.5 2045.9,125.1 C2051.6,132.7 2058.1,140.7 2064.2,147.9 C2070.3,155.1 2076.4,161.8 2082.5,168.5 C2088.6,175.2 2094.6,181.6 2100.7,187.9 C2106.8,194.2 2112.9,200.1 2119.0,206.2 C2125.1,212.3 2131.2,218.5 2137.3,224.4 C2143.4,230.3 2149.5,236.1 2155.6,241.6 C2161.7,247.1 2167.7,252.4 2173.8,257.5 C2179.9,262.6 2185.6,267.4 2192.1,272.4 C2198.6,277.3 2205.5,282.2 2212.7,287.2 C2219.9,292.1 2227.9,297.5 2235.5,302.1 C2243.1,306.7 2250.7,310.8 2258.3,314.6 C2265.9,318.4 2273.6,322.0 2281.2,324.9 C2288.8,327.8 2296.4,329.9 2304.0,331.8 C2311.6,333.7 2319.3,335.1 2326.9,336.3 C2334.5,337.6 2344.9,338.1 2349.7,339.3 C2354.5,340.5 2353.5,340.7 2355.5,343.4 C2357.5,346.1 2359.7,350.8 2361.9,355.3 C2364.1,359.8 2366.1,365.2 2368.8,370.2 C2371.5,375.1 2374.9,379.1 2377.9,385.0 C2380.9,390.9 2383.6,398.4 2387.0,405.6 C2390.4,412.8 2394.7,420.8 2398.5,428.4 C2402.3,436.0 2406.1,444.5 2409.9,451.2 C2413.7,457.9 2417.5,463.2 2421.3,468.4 C2425.1,473.5 2428.9,477.4 2432.7,482.1 C2436.5,486.9 2442.2,494.4 2444.1,496.9 L2550,520 L2600,200 L2100,0 L2000,30Z" fill="#EB9A75"/>
<path d="M1310.5,1615.9 C1310.9,1609.5 1311.9,1602.7 1313.8,1597.7 C1315.7,1592.7 1318.5,1588.8 1322.1,1586.0 C1325.7,1583.2 1330.4,1581.1 1335.4,1581.1 C1340.4,1581.1 1346.5,1583.2 1352.0,1586.0 C1357.5,1588.8 1364.2,1593.3 1368.6,1597.7 C1373.0,1602.1 1376.5,1607.3 1378.6,1612.6 C1380.7,1617.8 1381.8,1623.4 1381.2,1629.2 C1380.6,1635.0 1378.4,1642.5 1375.2,1647.5 C1372.0,1652.5 1367.0,1656.3 1362.0,1659.1 C1357.0,1661.9 1350.8,1663.5 1345.3,1664.1 C1339.8,1664.7 1333.4,1664.4 1328.7,1662.5 C1324.0,1660.6 1320.0,1656.9 1317.1,1652.5 C1314.2,1648.1 1312.6,1642.0 1311.5,1635.9 C1310.4,1629.8 1310.1,1622.3 1310.5,1615.9Z" fill="#EB9A75"/>
<path d="M993.2,1599.3 C995.7,1588.8 1003.7,1596.3 1008.1,1596.0 C1012.5,1595.7 1016.2,1596.0 1019.8,1597.7 C1023.4,1599.4 1026.9,1602.7 1029.7,1606.0 C1032.5,1609.3 1033.6,1614.3 1036.4,1617.6 C1039.2,1620.9 1043.0,1623.1 1046.3,1625.9 C1049.6,1628.7 1053.2,1629.8 1056.3,1634.2 C1059.3,1638.6 1062.4,1647.2 1064.6,1652.5 C1066.8,1657.8 1069.3,1661.9 1069.6,1665.8 C1069.9,1669.7 1068.0,1673.2 1066.3,1675.7 C1064.6,1678.2 1062.4,1679.9 1059.6,1680.7 C1056.8,1681.5 1051.3,1688.7 1049.7,1680.7 C1048.1,1672.7 1059.1,1636.2 1049.7,1632.6 C1040.3,1629.0 1002.6,1664.6 993.2,1659.1 C983.8,1653.5 990.7,1609.8 993.2,1599.3Z" fill="#EB9A75"/>
<path d="M1945.3,750.9 C1943.3,754.3 1944.7,770.2 1943.4,780.8 C1942.2,791.4 1935.1,809.0 1937.8,814.5 C1940.5,820.0 1954.3,817.8 1959.5,813.9 C1964.7,810.0 1965.9,797.2 1969.2,790.9 C1972.5,784.6 1976.3,779.2 1979.1,776.0 C1981.8,772.8 1987.1,773.1 1985.7,771.7 C1984.3,770.3 1975.5,769.6 1970.5,767.7 C1965.5,765.8 1959.8,763.1 1955.6,760.3 C1951.4,757.5 1947.3,747.5 1945.3,750.9Z" fill="#EEA88A"/>
<path d="M701.8,598.2 C701.8,593.5 703.6,587.2 706.4,582.0 C709.2,576.8 713.8,571.2 718.5,567.2 C723.2,563.2 729.3,559.7 734.7,557.7 C740.1,555.7 746.0,554.5 750.9,555.0 C755.8,555.5 760.8,557.5 764.4,560.4 C768.0,563.3 771.2,568.1 772.5,572.6 C773.8,577.1 773.4,582.2 772.0,587.4 C770.6,592.6 767.9,598.9 764.4,603.6 C760.9,608.3 755.8,613.0 750.9,615.8 C746.0,618.6 740.1,619.8 734.7,620.3 C729.3,620.8 723.2,620.1 718.5,618.5 C713.8,616.9 709.2,613.8 706.4,610.4 C703.6,607.0 701.8,602.9 701.8,598.2Z" fill="#E7744A"/>
<path d="M1206.0,897.2 C1213.5,895.1 1221.5,895.4 1229.2,896.2 C1237.0,897.0 1245.3,899.0 1252.5,902.2 C1259.7,905.4 1266.6,910.4 1272.4,915.4 C1278.2,920.4 1283.5,924.9 1287.4,932.1 C1291.3,939.3 1294.1,949.2 1295.7,958.6 C1297.3,968.0 1298.4,979.1 1297.3,988.5 C1296.2,997.9 1293.2,1007.9 1289.0,1015.1 C1284.8,1022.3 1278.5,1026.7 1272.4,1031.7 C1266.3,1036.7 1259.7,1041.4 1252.5,1045.0 C1245.3,1048.6 1237.0,1051.1 1229.2,1053.3 C1221.5,1055.5 1213.2,1058.0 1206.0,1058.3 C1198.8,1058.6 1192.1,1057.2 1186.0,1055.0 C1179.9,1052.8 1174.1,1049.4 1169.4,1045.0 C1164.7,1040.6 1160.6,1035.1 1157.8,1028.4 C1155.0,1021.8 1153.5,1013.4 1152.8,1005.1 C1152.1,996.8 1152.4,987.5 1153.5,978.6 C1154.6,969.8 1156.8,960.3 1159.5,952.0 C1162.2,943.7 1165.2,935.9 1169.4,928.7 C1173.6,921.5 1178.3,914.0 1184.4,908.8 C1190.5,903.5 1198.5,899.3 1206.0,897.2Z" fill="#E7744A"/>
<path d="M1421.9,664.6 C1420.2,669.3 1415.0,683.2 1412.0,692.9 C1409.0,702.6 1405.9,712.8 1403.7,722.8 C1401.5,732.8 1399.5,742.7 1398.7,752.7 C1397.9,762.7 1398.2,772.6 1398.7,782.6 C1399.2,792.6 1400.3,803.1 1402.0,812.5 C1403.7,821.9 1405.8,830.7 1408.6,839.0 C1411.4,847.3 1414.7,855.1 1418.6,862.3 C1422.5,869.5 1427.5,876.1 1431.9,882.2 C1436.3,888.3 1441.3,893.3 1445.2,898.8 C1449.1,904.3 1452.6,909.3 1455.1,915.4 C1457.6,921.5 1459.0,928.2 1460.1,935.4 C1461.2,942.6 1462.1,950.9 1461.8,958.6 C1461.5,966.4 1460.7,973.6 1458.5,981.9 C1456.3,990.2 1452.9,1001.0 1448.5,1008.5 C1444.1,1016.0 1435.5,1019.1 1431.9,1026.6 C1428.3,1034.0 1428.1,1044.3 1426.9,1053.2 C1425.7,1062.1 1424.9,1070.9 1424.6,1079.7 C1424.3,1088.5 1424.3,1097.4 1425.2,1106.3 C1426.1,1115.2 1427.4,1125.7 1430.2,1132.9 C1433.0,1140.1 1436.6,1145.1 1441.9,1149.5 C1447.2,1153.9 1454.6,1157.0 1461.8,1159.5 C1469.0,1162.0 1477.2,1163.4 1485.0,1164.5 C1492.8,1165.6 1500.5,1166.1 1508.3,1166.1 C1516.1,1166.1 1523.3,1165.6 1531.6,1164.5 C1539.9,1163.4 1549.2,1160.6 1558.1,1159.5 C1566.9,1158.4 1576.9,1157.2 1584.7,1157.8 C1592.5,1158.3 1598.6,1160.3 1604.7,1162.8 C1610.8,1165.3 1614.1,1168.9 1621.3,1172.8 C1628.5,1176.7 1638.9,1182.7 1647.8,1186.0 C1656.7,1189.3 1665.0,1191.0 1674.4,1192.7 C1683.8,1194.4 1693.8,1195.5 1704.3,1196.0 C1714.8,1196.5 1726.4,1196.5 1737.5,1196.0 C1748.6,1195.5 1760.4,1194.3 1770.8,1192.7 C1781.2,1191.1 1789.3,1187.3 1799.7,1186.4 C1810.1,1185.5 1821.8,1187.0 1832.9,1187.4 C1844.0,1187.8 1855.0,1188.8 1866.1,1189.0 C1877.2,1189.2 1888.2,1188.8 1899.3,1188.4 C1910.4,1188.0 1921.5,1187.1 1932.6,1186.4 C1943.7,1185.7 1954.7,1185.1 1965.8,1184.1 C1976.9,1183.0 1989.0,1181.8 1999.0,1180.1 C2009.0,1178.4 2017.3,1176.5 2025.6,1174.1 C2033.9,1171.7 2041.6,1168.6 2048.8,1165.8 C2056.0,1163.0 2062.2,1160.5 2068.8,1157.5 C2075.5,1154.5 2082.6,1150.8 2088.7,1147.5 C2094.8,1144.2 2100.3,1140.5 2105.3,1137.5 C2110.3,1134.5 2115.3,1130.9 2118.6,1129.2 C2121.9,1127.5 2124.1,1127.9 2125.2,1127.6 L2350,1127 L2350,880 L2100,870 L1960,835 L1941.5,818.8 C1941.0,816.6 1938.2,811.0 1938.2,805.5 C1938.2,800.0 1940.4,793.2 1941.5,785.5 C1942.6,777.8 1944.5,768.3 1944.9,759.0 C1945.4,749.7 1945.1,739.0 1944.2,729.9 C1943.3,720.8 1941.4,712.0 1939.7,704.3 C1938.0,696.6 1936.1,690.6 1934.0,683.8 C1931.9,676.9 1929.2,670.1 1927.1,663.2 C1925.0,656.4 1923.3,649.2 1921.4,642.7 C1919.5,636.2 1917.8,630.1 1915.7,624.4 C1913.6,618.7 1911.5,613.3 1908.8,608.4 C1906.1,603.5 1903.5,599.3 1899.7,594.7 C1895.9,590.1 1891.0,585.6 1886.0,581.0 C1881.0,576.4 1875.7,571.9 1870.0,567.3 C1864.3,562.7 1858.2,558.2 1851.7,553.6 C1845.2,549.0 1838.4,544.5 1831.2,539.9 C1824.0,535.3 1815.9,530.4 1808.3,526.2 C1800.7,522.0 1793.1,518.6 1785.5,514.8 C1777.9,511.0 1769.4,506.4 1762.7,503.3 C1756.0,500.2 1748.4,497.6 1745.5,496.5 L1700,450 L1450,600Z" fill="#E7744A"/>
<path d="M2063.1,48.6 C2064.8,51.5 2069.3,59.1 2073.3,65.7 C2077.3,72.4 2082.4,80.5 2087.0,88.5 C2091.6,96.5 2096.1,105.2 2100.7,113.6 C2105.3,122.0 2109.9,130.4 2114.5,138.8 C2119.1,147.2 2123.3,155.2 2128.2,163.9 C2133.1,172.7 2138.4,182.6 2144.1,191.3 C2149.8,200.1 2155.9,208.4 2162.4,216.4 C2168.9,224.4 2175.8,232.1 2183.0,239.3 C2190.2,246.5 2198.2,253.7 2205.8,259.8 C2213.4,265.9 2221.1,271.0 2228.7,275.8 C2236.3,280.6 2243.9,285.0 2251.5,288.4 C2259.1,291.8 2266.7,294.4 2274.3,296.4 C2281.9,298.4 2290.3,299.8 2297.2,300.5 C2304.0,301.2 2310.1,301.0 2315.4,300.5 C2320.7,300.0 2325.4,298.8 2329.2,297.5 C2333.0,296.2 2336.0,294.2 2338.3,292.9 C2340.6,291.6 2342.1,290.1 2342.9,289.5 L2400,250 L2200,0 L2050,20Z" fill="#E7744A"/>
<path d="M2415.6,352.6 C2415.7,355.7 2415.7,365.1 2416.3,371.3 C2416.9,377.5 2417.8,383.9 2419.0,389.6 C2420.2,395.3 2421.7,399.5 2423.6,405.6 C2425.5,411.7 2427.7,419.2 2430.4,426.1 C2433.1,433.0 2436.6,440.6 2439.6,446.7 C2442.6,452.8 2445.7,457.8 2448.7,462.7 C2451.7,467.6 2454.8,472.2 2457.8,476.4 C2460.9,480.6 2464.1,485.0 2467.0,487.8 C2469.9,490.6 2473.7,492.1 2475.0,493.0 L2524.1,493.0 L2524.1,291.4 L2415.6,337.0Z" fill="#E7744A"/>
<path d="M2096.0,689.2 C2096.4,685.1 2097.1,679.3 2099.3,675.9 C2101.5,672.5 2105.4,669.7 2109.3,668.6 C2113.2,667.5 2118.2,667.8 2122.6,669.3 C2127.0,670.8 2132.6,673.7 2135.9,677.6 C2139.2,681.5 2141.7,687.2 2142.5,692.5 C2143.3,697.8 2142.8,704.8 2140.9,709.1 C2139.0,713.4 2135.1,716.7 2130.9,718.4 C2126.7,720.1 2120.6,720.1 2115.9,719.1 C2111.2,718.1 2105.9,715.5 2102.7,712.5 C2099.5,709.5 2097.8,704.7 2096.7,700.8 C2095.6,696.9 2095.6,693.4 2096.0,689.2Z" fill="#E7744A"/>
<path d="M1961.5,815.4 C1956.2,812.6 1968.1,798.6 1971.4,792.2 C1974.7,785.8 1978.6,780.4 1981.4,777.2 C1984.2,774.0 1985.0,773.7 1988.0,772.9 C1991.0,772.1 1994.4,773.5 1999.7,772.3 C2005.0,771.1 2013.0,768.1 2019.6,765.6 C2026.2,763.1 2034.0,759.2 2039.5,757.3 C2045.0,755.4 2057.8,749.9 2052.8,754.0 C2047.8,758.1 2017.9,773.1 2009.6,782.2 C2001.3,791.3 2011.0,803.3 2003.0,808.8 C1995.0,814.3 1966.8,818.2 1961.5,815.4Z" fill="#E7744A"/>
<path d="M2099.3,813.8 L2112.6,827.1 L2092.0,851.0 L2088.7,835.4Z" fill="#E7744A"/>
<path d="M1475.1,639.7 C1474.3,644.1 1472.6,656.3 1470.1,666.3 C1467.6,676.3 1463.4,688.4 1460.1,699.5 C1456.8,710.6 1452.7,721.6 1450.2,732.7 C1447.7,743.8 1445.8,755.4 1445.2,765.9 C1444.6,776.4 1445.4,786.4 1446.8,795.8 C1448.2,805.2 1450.5,814.6 1453.5,822.4 C1456.5,830.2 1460.4,836.6 1465.1,842.4 C1469.8,848.2 1475.6,853.1 1481.7,857.3 C1487.8,861.4 1495.1,865.4 1501.7,867.3 C1508.3,869.2 1515.5,868.3 1521.6,868.9 C1527.7,869.5 1534.0,869.2 1538.2,870.6 C1542.4,872.0 1545.0,874.7 1546.5,877.2 C1548.0,879.7 1548.3,882.5 1547.5,885.5 C1546.7,888.5 1545.3,891.1 1541.5,895.5 C1537.7,899.9 1529.9,906.6 1524.9,912.1 C1519.9,917.6 1515.8,922.6 1511.6,928.7 C1507.4,934.8 1503.3,941.5 1500.0,948.7 C1496.7,955.9 1493.9,963.6 1491.7,971.9 C1489.5,980.2 1487.5,989.4 1486.7,998.5 C1485.9,1007.6 1486.2,1017.5 1486.7,1026.6 C1487.2,1035.7 1488.1,1045.5 1490.0,1053.2 C1491.9,1061.0 1494.7,1067.6 1498.3,1073.1 C1501.9,1078.6 1506.0,1083.1 1511.6,1086.4 C1517.1,1089.7 1523.8,1092.5 1531.6,1093.0 C1539.3,1093.5 1549.2,1091.1 1558.1,1089.7 C1566.9,1088.3 1576.4,1085.2 1584.7,1084.7 C1593.0,1084.2 1600.8,1084.7 1608.0,1086.4 C1615.2,1088.1 1621.8,1091.4 1627.9,1094.7 C1634.0,1098.0 1639.0,1102.4 1644.5,1106.3 C1650.0,1110.2 1654.4,1114.6 1661.1,1117.9 C1667.8,1121.2 1676.1,1124.0 1684.4,1126.2 C1692.7,1128.4 1701.6,1130.4 1711.0,1131.2 C1720.4,1132.0 1730.9,1131.8 1740.9,1131.2 C1750.9,1130.7 1755.5,1128.9 1770.8,1127.9 C1786.1,1126.9 1817.0,1125.7 1832.9,1125.2 C1848.8,1124.8 1855.0,1124.8 1866.1,1125.2 C1877.2,1125.6 1888.2,1126.8 1899.3,1127.6 C1910.4,1128.4 1921.5,1129.2 1932.6,1129.9 C1943.7,1130.6 1955.8,1131.3 1965.8,1131.6 C1975.8,1131.9 1984.1,1132.0 1992.4,1131.6 C2000.7,1131.2 2007.8,1130.6 2015.6,1129.2 C2023.3,1127.8 2031.7,1125.8 2038.9,1123.3 C2046.1,1120.8 2052.7,1117.5 2058.8,1114.3 C2064.9,1111.1 2070.7,1107.3 2075.4,1104.3 C2080.1,1101.2 2084.2,1098.2 2087.0,1096.0 C2089.8,1093.8 2091.2,1091.8 2092.0,1091.0 L2200,1091 L2200,955 L2126.2,951.5 C2125.9,950.7 2125.6,950.6 2124.6,946.5 C2123.6,942.4 2122.1,932.4 2120.3,926.6 C2118.5,920.8 2116.4,914.8 2113.6,911.6 C2110.8,908.4 2106.8,906.7 2103.7,907.3 C2100.6,907.9 2097.4,911.2 2095.3,915.0 C2093.2,918.8 2092.8,924.1 2091.4,929.9 C2090.0,935.7 2089.7,943.7 2087.0,949.8 C2084.3,955.9 2080.7,961.4 2075.4,966.4 C2070.2,971.4 2063.2,975.7 2055.5,979.7 C2047.8,983.7 2038.3,987.7 2028.9,990.4 C2019.5,993.1 2009.0,995.5 1999.0,995.7 C1989.0,995.9 1979.1,994.1 1969.1,991.4 C1959.1,988.7 1948.6,984.4 1939.2,979.7 C1929.8,975.0 1920.3,969.2 1912.6,963.1 C1904.8,957.0 1898.5,950.4 1892.7,943.2 C1886.9,936.0 1881.3,927.1 1877.7,919.9 C1874.1,912.7 1874.0,907.6 1871.1,900.0 C1868.2,892.4 1863.5,883.9 1860.3,874.3 C1857.1,864.7 1854.3,853.4 1851.8,842.5 C1849.3,831.6 1847.3,820.3 1845.3,808.8 C1843.3,797.3 1841.9,784.8 1839.7,773.3 C1837.5,761.8 1835.0,750.9 1832.2,739.7 C1829.4,728.5 1826.3,717.0 1822.9,706.1 C1819.5,695.2 1815.4,683.6 1811.7,674.3 C1808.0,664.9 1803.3,655.3 1800.5,650.0 C1797.7,644.7 1797.5,647.7 1794.6,642.7 C1791.7,637.7 1787.0,627.0 1783.2,619.8 C1779.4,612.6 1776.0,606.1 1771.8,599.3 C1767.6,592.4 1762.7,585.2 1758.1,578.7 C1753.5,572.2 1749.4,566.5 1744.4,560.4 C1739.5,554.3 1733.7,547.9 1728.4,542.2 C1723.1,536.5 1717.7,531.2 1712.4,526.2 C1707.1,521.2 1702.1,516.7 1696.4,512.5 C1690.7,508.3 1684.3,504.2 1678.2,501.1 C1672.1,498.1 1663.0,495.4 1659.9,494.2 L1640,480 L1600,560 L1500,600Z" fill="#9A5C46"/>
<path d="M2512.2,309.2 C2510.8,311.2 2506.1,315.7 2503.5,321.1 C2500.9,326.5 2499.0,334.4 2496.7,341.6 C2494.4,348.8 2492.5,357.3 2489.8,364.5 C2487.1,371.7 2484.1,378.1 2480.7,385.0 C2477.3,391.9 2472.9,399.1 2469.3,405.6 C2465.7,412.1 2461.5,418.9 2459.0,423.8 C2456.5,428.8 2455.0,432.1 2454.4,435.3 C2453.8,438.6 2454.3,441.4 2455.6,443.3 C2456.9,445.2 2458.6,445.9 2462.4,446.7 C2466.2,447.4 2473.5,447.2 2478.4,447.8 C2483.3,448.4 2488.3,449.5 2492.1,450.1 C2495.9,450.7 2499.7,451.0 2501.2,451.2 L2524.1,451.2 L2524.1,309.2Z" fill="#9A5C46"/>
<path d="M1588.0,749.3 C1590.1,745.1 1594.1,742.9 1598.0,741.0 C1601.9,739.1 1606.9,737.4 1611.3,737.7 C1615.7,738.0 1621.4,739.7 1624.6,742.7 C1627.8,745.8 1630.0,750.5 1630.6,756.0 C1631.1,761.5 1629.5,768.7 1627.9,775.9 C1626.4,783.1 1623.5,791.5 1621.3,799.2 C1619.1,807.0 1616.8,815.2 1614.6,822.4 C1612.4,829.6 1610.2,836.3 1608.0,842.4 C1605.8,848.5 1603.5,854.9 1601.3,859.0 C1599.1,863.1 1597.5,865.4 1594.7,867.3 C1591.9,869.2 1587.8,870.6 1584.7,870.6 C1581.7,870.6 1578.3,869.8 1576.4,867.3 C1574.5,864.8 1573.4,860.3 1573.1,855.6 C1572.8,850.9 1573.7,845.6 1574.8,839.0 C1575.9,832.4 1578.0,824.1 1579.7,815.8 C1581.4,807.5 1583.8,797.5 1584.7,789.2 C1585.7,780.9 1584.9,772.5 1585.4,765.9 C1586.0,759.2 1585.9,753.4 1588.0,749.3Z" fill="#E7744A"/>
</g>
<g fill="none" stroke="#1c1c18" stroke-width="3" stroke-linejoin="miter" stroke-linecap="butt">
<path d="M1028.3,606.6 L1031.5,660.5 L937.8,697.0 L899.0,745.9 L913.2,810.8"/>
<path d="M913.2,810.8 L799.4,835.9 L750.5,864.7 L772.0,899.8"/>
<path d="M913.2,810.8 L977.6,809.8 L1000.4,838.2 L1040.6,835.9 L1055.2,814.9 L1082.6,829.0 L1089.5,816.7 L1100.0,813.5"/>
<path d="M214.2,1067.0 L269.5,1043.2 L284.1,1011.3 L344.9,1012.6 L389.7,994.4 L462.3,1017.6 L520.8,997.1 L609.8,959.2 L665.6,977.9 L700.3,982.5 L735.5,984.3 L760.6,998.5 L772.0,952.8 L779.8,928.6 L768.8,890.2 L750.5,864.6 L776.6,850.0" stroke-width="1.8"/>
<path d="M700.3,982.5 L702.1,1040.5 L679.3,1092.1 L713.1,1138.2 L761.5,1133.2 L806.3,1159.7 L928.7,1171.6 L943.3,1218.2 L971.6,1210.9 L1000.4,1224.6"/>
<path d="M1965.9,42.0 L1969.5,106.4 L2008.3,108.3 L2033.5,164.5 L2109.8,142.5 L2150.0,173.6 L2121.2,303.8 L2069.1,339.0 L2057.2,389.2 L2097.4,428.0" stroke-width="1.8"/>
<path d="M2097.4,428.0 L2065.4,456.8" stroke-width="1.8"/>
<path d="M2097.4,428.0 L2113.0,450.4" stroke-width="1.8"/>
<path d="M1769.4,654.2 L1795.9,657.8 L1796.8,675.2 L1818.8,675.2 L1846.2,668.3 L1872.7,669.2 L1887.3,647.8 L1900.1,645.5" stroke-width="1.8"/>
<path d="M2146.8,598.5 L2177.4,604.5 L2209.0,631.1 L2262.1,730.1"/>
<path d="M2066.1,457.3 L2042.9,465.6 L2066.1,504.8 L2074.4,550.7 L2112.0,531.4 L2136.5,585.5 L2146.8,598.5 L2125.9,631.1 L2062.8,645.3 L2014.0,678.2 L1982.1,642.7 L1971.4,699.8 L1970.8,738.4 L2014.0,748.3 L2008.0,778.9"/>
<path d="M1900.0,646.0 L1915.6,642.7 L1934.2,690.9 L1971.4,699.8"/>
<path d="M2112.6,450.0 L2132.6,475.6 L2263.8,492.5 L2277.7,528.1 L2307.6,544.7 L2309.3,529.7 L2357.8,584.6 L2405.0,558.6 L2440.9,597.8"/>
<path d="M1877.6,707.0 L1851.8,721.0 L1841.0,739.7 L1839.7,749.0 L1825.1,774.3 L1848.5,796.7 L1883.6,797.3 L1911.6,769.6 L1910.7,750.9 L1877.6,707.0 L1851.8,721.0"/>
<path d="M1911.6,752.3 L1928.2,760.6 L1926.6,795.5 L1942.5,818.8"/>
<path d="M1883.6,797.3 L1893.0,835.9 L1930.3,849.6"/>
<path d="M1940.6,865.8 L1930.3,885.5 L1905.1,889.2 L1860.6,929.6"/>
<path d="M1077.1,619.8 L1078.1,694.5 L1104.7,747.7 L1154.5,724.4 L1189.4,722.8 L1201.0,744.4 L1172.8,775.9 L1231.6,831.7 L1255.8,801.5 L1274.1,817.4 L1312.3,814.1 L1357.1,796.8 L1363.8,817.4 L1337.9,842.4 L1328.9,893.9 L1365.4,908.8"/>
<path d="M1000.0,837.4 L1039.2,835.0 L1055.8,815.1 L1082.4,828.4 L1090.4,815.8 L1117.9,810.1 L1146.8,845.7 L1152.2,830.1 L1174.4,829.1 L1192.7,859.0 L1288.4,925.4 L1298.0,991.9"/>
<path d="M1365.4,908.8 L1425.2,871.6 L1426.2,825.7 L1464.1,799.2 L1480.7,827.4 L1463.5,854.7 L1518.3,905.5 L1558.1,898.8 L1566.4,864.0 L1621.3,800.8 L1682.7,793.2 L1709.3,757.6 L1779.1,746.0 L1762.5,707.8 L1770.1,654.7"/>
<path d="M1365.4,908.8 L1382.1,918.8 L1420.3,1010.1 L1453.5,1020.1 L1475.7,983.6 L1460.1,963.6 L1467.8,928.7 L1495.7,939.4 L1546.5,966.9 L1554.2,1025.1 L1519.3,1041.0"/>
<path d="M1495.7,939.4 L1495.7,888.2"/>
<path d="M1642.9,799.2 L1650.2,837.4 L1629.6,872.3 L1637.9,902.2 L1632.9,938.7 L1640.5,981.9"/>
<path d="M1779.1,746.0 L1770.8,767.6 L1795.7,779.2 L1794.0,819.1 L1774.1,822.4 L1762.5,855.6 L1784.1,905.5 L1780.7,971.9"/>
<path d="M1048.5,1431.2 L1080.7,1401.3 L1099.7,1347.2 L1103.7,1333.9 L1096.3,1233.2 L1033.9,1175.4 L1000.0,1225.9"/>
<path d="M1033.9,1175.4 L1032.2,1153.8 L1054.8,1124.6 L1058.1,1099.7 L1082.4,1095.3 L1106.3,1134.6 L1166.8,1179.4 L1209.3,1171.8 L1210.0,1149.5 L1245.8,1145.2 L1273.1,1125.6 L1260.8,1105.6 L1219.3,1089.0 L1244.2,1073.8 L1292.4,1000.0 L1298.0,991.9"/>
<path d="M1260.8,1105.6 L1301.7,1085.7 L1307.3,1123.6 L1353.8,1136.9 L1371.4,1169.4 L1428.6,1169.4 L1468.4,1175.1 L1551.5,1201.7 L1604.7,1219.3 L1624.6,1229.2 L1637.9,1246.5 L1634.6,1271.8 L1609.0,1289.0 L1555.5,1288.4 L1564.8,1327.2 L1597.0,1356.5"/>
<path d="M1099.7,1347.2 L1108.0,1406.0 L1126.9,1377.7 L1150.5,1401.3 L1135.5,1436.9 L1181.1,1434.6"/>
<path d="M1551.5,1201.7 L1548.2,1222.6 L1537.5,1262.5 L1499.0,1279.1 L1491.0,1317.9 L1460.1,1305.6 L1420.3,1304.0 L1408.6,1343.9 L1436.9,1379.7 L1435.2,1387.0 L1455.1,1394.7 L1511.6,1366.4 L1556.5,1374.4 L1583.1,1415.3 L1599.7,1414.3"/>
<path d="M1435.2,1387.0 L1416.9,1408.6 L1448.5,1426.2 L1451.2,1436.2 L1426.2,1438.5 L1401.3,1462.8 L1394.7,1426.2 L1359.5,1428.6 L1358.1,1388.0 L1343.9,1386.0 L1317.3,1408.6 L1317.3,1433.6 L1283.4,1469.4"/>
<path d="M1428.6,1169.4 L1450.2,1136.2 L1467.8,1078.1 L1468.4,1041.5 L1485.0,1054.8 L1515.0,1059.8 L1517.6,1039.9 L1519.3,1041.0"/>
<path d="M1604.7,1219.3 L1606.3,1182.1 L1620.6,1176.7 L1617.3,1159.5 L1600.7,1140.2 L1658.5,1136.2 L1665.4,1136.9 L1695.3,1162.8 L1680.4,1185.4 L1722.6,1192.0 L1800.0,1186.7"/>
<path d="M1658.5,1136.2 L1652.8,1106.3 L1636.2,1071.4 L1720.9,1033.2 L1767.4,1028.2 L1774.1,1000.0 L1780.7,973.1"/>
<path d="M1636.2,1071.4 L1640.5,1000.0 L1640.5,981.9"/>
<path d="M1597.0,1356.5 L1632.9,1320.6 L1647.8,1334.9 L1661.1,1312.3 L1749.2,1335.5 L1800.0,1328.2"/>
<path d="M1597.0,1356.5 L1599.7,1414.3 L1604.7,1414.3"/>
<path d="M2037.2,1056.8 L2026.2,1050.2 L2007.3,1071.1 L1987.4,1067.1 L1953.5,1071.8 L1923.3,1053.8 L1912.6,1066.1 L1901.0,1076.1"/>
<path d="M1780.7,973.1 L1850.5,984.7 L1861.8,996.3 L1862.8,1013.0 L1837.9,1045.2 L1901.0,1076.1 L1926.9,1110.0 L1905.0,1123.3 L1879.4,1102.0 L1861.8,1147.5 L1846.2,1150.8 L1869.4,1159.8 L1869.4,1181.7 L1901.0,1184.1 L1899.3,1223.9 L1888.4,1238.9"/>
<path d="M1912.6,1066.1 L1942.5,1098.7 L1975.7,1103.3 L2001.7,1112.0 L1995.0,1132.6 L2004.0,1155.8 L2028.9,1164.1 L2054.8,1164.8 L2054.8,1184.1 L2027.2,1185.7 L2024.9,1212.3 L2048.8,1247.2 L2087.0,1256.1 L2145.2,1267.1 L2158.5,1254.8 L2148.5,1218.3 L2183.4,1211.6"/>
<path d="M1700.0,1189.0 L1723.3,1191.7 L1800.7,1185.0 L1809.6,1214.0 L1856.1,1232.2 L1888.4,1238.9 L1929.2,1326.2 L1955.8,1316.3 L1959.1,1330.2 L1982.4,1321.3 L2007.3,1341.9 L2040.5,1346.8"/>
<path d="M2087.0,1256.1 L2069.4,1308.6 L2040.5,1346.8"/>
<path d="M1700.0,1321.9 L1749.8,1335.2 L1808.6,1326.9 L1822.9,1368.4 L1901.0,1328.6 L1929.2,1326.2"/>
<path d="M1850.5,984.7 L1861.8,932.2"/>
<path d="M1822.9,1368.3 L1846.2,1401.5 L1823.6,1450.7 L1835.5,1466.3 L1848.5,1510.5 L1847.8,1573.3"/>
<path d="M2040.5,1350.0 L2027.2,1368.3 L2045.5,1391.5 L2046.2,1419.8 L2020.6,1434.7 L1999.0,1435.7 L1987.4,1448.7 L2004.0,1458.0 L1999.0,1470.3 L1976.4,1476.9 L1973.4,1506.1 L1943.2,1607.5 L1929.2,1599.8 L1885.0,1610.8 L1866.1,1609.1 L1887.7,1567.6 L1862.8,1574.3 L1836.2,1574.3 L1804.0,1561.0 L1801.3,1594.2 L1767.1,1585.2 L1746.5,1604.2"/>
<path d="M2046.2,1419.8 L2055.5,1412.5 L2082.1,1448.7 L2113.0,1457.0 L2119.3,1444.0 L2165.1,1465.3"/>
<path d="M1949.2,1592.5 L1979.1,1598.5 L2007.3,1620.8 L2022.3,1665.6"/>
<path d="M1181.6,1434.9 L1205.8,1506.3 L1237.4,1533.6 L1273.9,1513.6 L1291.5,1512.3 L1283.2,1469.1"/>
<path d="M1401.2,1462.5 L1350.3,1459.8 L1322.8,1468.1 L1323.8,1507.0 L1371.3,1512.0 L1357.6,1543.9 L1370.3,1566.1 L1366.3,1601.0 L1381.9,1615.3 L1405.1,1628.6 L1443.4,1640.9 L1449.0,1655.1 L1428.4,1690.7"/>
<path d="M1370.3,1566.1 L1376.2,1581.1 L1426.7,1601.7 L1451.7,1597.7 L1498.8,1561.1 L1537.4,1573.4 L1563.0,1558.8 L1593.9,1554.5 L1616.1,1534.6 L1694.9,1514.0 L1713.5,1541.2 L1704.8,1586.0 L1750.0,1602.7"/>
<path d="M1616.1,1534.6 L1611.1,1498.0 L1594.5,1479.1 L1603.8,1451.5 L1604.5,1414.3"/>
<path d="M1747.3,1600.0 L1744.0,1646.5 L1725.7,1668.1 L1721.8,1698.7 L1694.9,1726.2 L1646.7,1785.4"/>
<path d="M79.9,838.6 L60.8,829.0 L77.7,782.4 L132.9,735.4 L185.0,733.1 L199.6,736.8 L205.6,708.4 L250.3,703.9 L374.6,640.8 L374.6,616.6 L413.9,585.1 L415.7,502.4 L504.8,484.1 L555.0,372.7 L585.2,386.8 L656.4,376.3 L654.6,348.5 L673.8,308.3 L721.8,285.9 L729.1,264.4 L765.2,269.4 L760.1,293.6 L791.7,333.4 L840.5,339.3 L851.5,391.9 L835.0,490.1 L930.5,494.6 L1007.3,527.1 L1015.0,572.3 L1028.3,606.6 L1028.3,614.8 L1077.1,619.8 L1179.4,619.8 L1222.6,605.8 L1299.0,649.7 L1375.4,672.9 L1428.6,662.3 L1488.4,632.4 L1576.4,628.7 L1644.5,578.9 L1664.5,580.6 L1655.3,560.4 L1638.6,537.1 L1658.3,493.1 L1688.4,499.9 L1725.0,515.2 L1764.0,476.5 L1807.4,477.4 L1843.9,430.3 L1885.9,411.1 L1952.2,411.1 L1960.4,385.1 L1919.3,351.7 L1885.0,335.8 L1859.0,342.6 L1856.2,365.4 L1829.3,341.7 L1806.0,355.4 L1780.9,334.4 L1798.2,296.9 L1811.0,230.7 L1855.3,251.2 L1891.9,221.6 L1907.8,227.5 L1907.8,188.7 L1939.8,134.8 L1932.1,95.0 L1906.5,86.8 L1965.9,42.0 L2041.7,36.5 L2083.7,59.4 L2142.2,98.2 L2188.8,191.9 L2223.0,249.9 L2303.0,267.2 L2347.8,301.5 L2364.7,340.3 L2420.8,352.7 L2514.5,308.3 L2504.0,354.0 L2507.6,380.1 L2499.7,493.9 L2453.2,492.2 L2419.9,525.7 L2440.9,597.8 L2434.2,638.7 L2410.6,604.8 L2392.7,609.5 L2395.7,650.0 L2354.2,665.9 L2353.5,696.5 L2318.6,696.5 L2290.4,679.2 L2277.7,734.1 L2262.1,730.1 L2213.0,753.0 L2218.9,797.2 L2155.1,787.9 L2092.0,851.0 L2088.7,835.4 L2101.0,811.5 L2076.1,808.8 L2124.3,755.0 L2077.1,719.8 L2051.8,754.7 L2008.0,778.9 L2001.3,807.1 L1942.5,818.8 L1933.2,832.1 L1933.2,850.3 L1942.2,867.9 L1999.7,882.9 L2008.0,903.5 L2003.7,925.7 L2036.2,928.4 L2057.8,901.2 L2095.0,890.2 L2119.3,901.2 L2164.1,910.1 L2166.8,946.7 L2115.3,953.2 L2077.1,1012.3 L2038.2,1034.6 L2037.2,1056.8 L2116.9,1107.6 L2133.6,1162.5 L2183.4,1211.6 L2198.3,1232.2 L2207.3,1267.1 L2178.4,1287.0 L2153.5,1307.0 L2171.8,1307.6 L2186.7,1321.3 L2201.7,1309.3 L2235.9,1317.9 L2224.9,1378.4 L2216.6,1381.7 L2206.6,1437.4 L2172.8,1444.0 L2165.1,1465.3 L2162.8,1496.2 L2137.9,1563.6 L2144.2,1578.2 L2122.6,1585.2 L2085.4,1631.7 L2043.2,1669.9 L2022.3,1665.6 L1984.1,1704.8 L1877.1,1732.1 L1861.8,1756.0 L1783.1,1775.2 L1726.6,1781.2 L1686.5,1800.3 L1681.9,1844.2 L1669.3,1844.9 L1649.3,1834.2 L1646.7,1785.4 L1607.8,1767.1 L1554.0,1777.1 L1499.8,1762.8 L1468.3,1750.2 L1464.0,1716.9 L1483.2,1703.0 L1440.0,1699.0 L1428.4,1690.7 L1403.5,1673.4 L1365.3,1695.7 L1331.4,1721.6 L1235.0,1741.5 L1234.1,1801.0 L1178.6,1809.3 L1177.6,1780.4 L1129.4,1774.8 L1099.5,1752.2 L1067.3,1733.9 L1092.9,1688.4 L1060.3,1679.7 L1054.0,1635.9 L1037.0,1635.9 L995.5,1656.5 L995.8,1629.2 L1012.5,1573.8 L1064.0,1536.9 L1059.6,1451.5 L1048.7,1432.2 L1018.8,1401.7 L988.9,1447.5 L933.3,1415.1 L782.1,1493.2 L739.1,1490.9 L728.6,1457.6 L714.0,1418.7 L673.8,1417.8 L638.6,1405.5 L596.1,1447.5 L577.0,1456.6 L573.3,1422.4 L494.7,1421.5 L424.8,1407.3 L360.9,1366.2 L275.5,1290.8 L239.8,1316.9 L237.5,1288.5 L191.9,1272.5 L144.8,1248.3 L143.9,1178.0 L159.9,1166.6 L193.2,1175.2 L193.2,1142.4 L184.1,1100.3 L206.5,1085.3 L214.2,1067.0 L183.2,1062.4 L185.0,1012.2 L158.5,995.3 L110.1,1005.3 L110.1,934.5 L88.2,936.8 L60.8,917.6 L82.2,905.7Z" stroke-width="1.8"/>
<path d="M2219.3,1574.9 L2247.5,1583.6 L2249.2,1632.4 L2238.2,1707.1 L2224.9,1723.8 L2220.9,1759.3 L2201.7,1745.3 L2166.1,1702.2 L2168.4,1665.6 L2183.4,1625.7 L2205.0,1584.2Z" fill="#62BA9F" stroke-width="2"/>
<path d="M1594.5,1885.7 L1634.4,1869.1 L1660.0,1860.8 L1699.2,1859.8 L1715.8,1876.4 L1692.5,1920.6 L1663.6,1947.8 L1618.4,1961.1 L1582.9,1947.2 L1582.9,1911.3Z" fill="#62BA9F" stroke-width="2"/>
</g>
<circle cx="740.1" cy="589.3" r="8.6" fill="#9A5C46"/>
<circle cx="1236.5" cy="965.3" r="30" fill="#9A5C46" clip-path="url(#cn)"/>
<rect x="2551" y="1146" width="233" height="81" fill="#A3D2C3"/>
<rect x="2552" y="1263" width="232" height="80" fill="#F2F289"/>
<rect x="2555" y="1385" width="231" height="79" fill="#F1C3A9"/>
<rect x="2556" y="1507" width="233" height="80" fill="#E7744A"/>
<rect x="2559" y="1629" width="233" height="80" fill="#9A5C46"/>
<g font-family="&quot;Liberation Sans&quot;, &quot;Noto Sans CJK SC&quot;, sans-serif" font-weight="bold" fill="#000">
<text x="2569 2651.7 2734.4 2817.1 2899.8 2982.5" y="1089" font-size="73">窜货区域监控</text>
<text x="2820 2884.6 2949.2" y="1209" font-size="57">无窜货</text>
<text x="2822 2885.6 2949.3 3012.9" y="1325" font-size="57">良性窜货</text>
<text x="2821 2884.9 2948.8 3012.7" y="1441" font-size="57">严重窜货</text>
<text x="2823 2887.2 2951.3 3015.5" y="1562" font-size="57">轻度窜货</text>
<text x="2830 2894.4 2958.9 3023.3" y="1682" font-size="57">频繁窜货</text>
</g>
<circle cx="1777.4" cy="1705.5" r="18.5" fill="#FE0000"/>
<text x="1806 1869.8" y="1722" font-size="57" font-weight="bold" fill="#fff" font-family="&quot;Liberation Sans&quot;, &quot;Noto Sans CJK SC&quot;, sans-serif">总部</text>
</svg>
</body></html>
